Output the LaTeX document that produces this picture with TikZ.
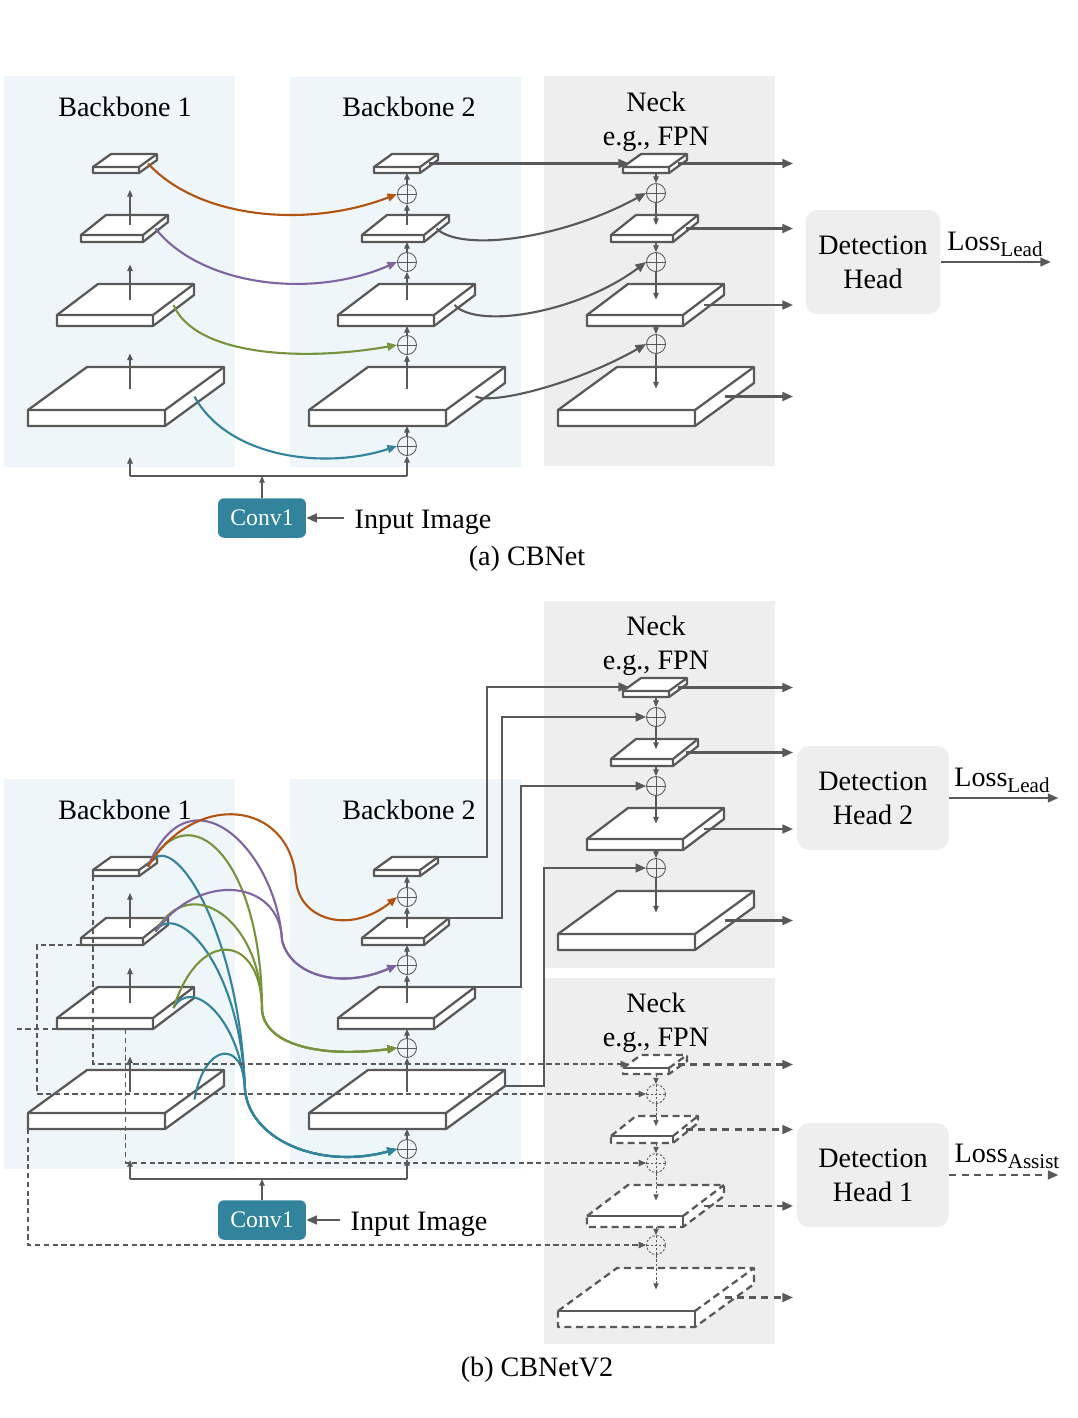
\documentclass[tikz,border=0pt]{standalone}
\usepackage{fontspec}
\setmainfont{Liberation Serif}
\usetikzlibrary{arrows.meta,calc}
\definecolor{lc}{RGB}{89,89,89}
\definecolor{bbg}{RGB}{238,246,250}
\definecolor{nbg}{RGB}{238,238,238}
\definecolor{cor}{RGB}{178,84,16}
\definecolor{cpu}{RGB}{128,100,162}
\definecolor{cgr}{RGB}{119,147,60}
\definecolor{cte}{RGB}{49,132,155}
\newcommand{\mydims}[1]{\ifcase#1 \or
  \def\Sw{137}\def\St{16}\def\Sdx{59}\def\Sdy{43}\or
  \def\Sw{96}\def\St{11}\def\Sdx{41}\def\Sdy{31}\or
  \def\Sw{62}\def\St{7}\def\Sdx{25}\def\Sdy{20}\or
  \def\Sw{46}\def\St{6}\def\Sdx{18}\def\Sdy{13}\fi}
\newcommand{\mypts}[4]{\mydims{#2}%
  \coordinate (#1-A) at (#3,#4);
  \coordinate (#1-B) at (#3+\Sw,#4);
  \coordinate (#1-C) at (#3+\Sw,#4+\St);
  \coordinate (#1-D) at (#3,#4+\St);
  \coordinate (#1-E) at (#3+\Sdx,#4-\Sdy);
  \coordinate (#1-F) at (#3+\Sw+\Sdx,#4-\Sdy);
  \coordinate (#1-G) at (#3+\Sw+\Sdx,#4-\Sdy+\St);
  \coordinate (#1-c) at (#3+\Sw/2+\Sdx/2,#4-\Sdy/2);
  \coordinate (#1-s) at (#3+\Sw+\Sdx/2,#4-\Sdy/2+\St/2);}
\newcommand{\myslab}[4]{\mypts{#1}{#2}{#3}{#4}%
  \filldraw[slabline,fill=white] (#1-A) -- (#1-E) -- (#1-F) -- (#1-G) -- (#1-C) -- (#1-D) -- cycle;
  \draw[slabline] (#1-A) -- (#1-B) -- (#1-C) (#1-B) -- (#1-F);}
\newcommand{\mydslab}[4]{\mypts{#1}{#2}{#3}{#4}%
  \fill[white] (#1-A) -- (#1-E) -- (#1-F) -- (#1-G) -- (#1-C) -- (#1-D) -- cycle;
  \draw[slabline,dslabdash] (#1-A) -- (#1-E) -- (#1-F) -- (#1-G) -- (#1-C) -- (#1-D) -- cycle (#1-B) -- (#1-F);
  \draw[slabline] (#1-A) -- (#1-B) -- (#1-C);}
\begin{document}
\begin{tikzpicture}[x=0.02cm,y=-0.02cm,
  slabline/.style={draw=lc, line width=1.3pt, line join=round},
  dslabdash/.style={dash pattern=on 4pt off 2.5pt},
  thinln/.style={draw=lc, line width=0.6pt},
  thinar/.style={thinln, -{Triangle[length=3.8pt,width=3.2pt]}},
  thickar/.style={draw=lc, line width=1.2pt, -{Triangle[length=6pt,width=5pt]}},
  dthickar/.style={thickar, dash pattern=on 4pt off 3pt},
  curvar/.style={line width=1.2pt, -{Triangle[length=5.5pt,width=4.5pt]}},
  dln/.style={draw=lc, line width=0.7pt, dash pattern=on 3pt off 2pt},
  dar/.style={dln, -{Triangle[length=4.2pt,width=3.6pt]}},
  dthin/.style={draw=lc, line width=0.5pt, dash pattern=on 1.5pt off 1pt, -{Triangle[length=3.5pt,width=3pt]}},
  plus/.style={circle, draw=lc, line width=0.5pt, minimum size=0.38cm, inner sep=0pt,
    path picture={\draw[lc, line width=0.5pt] (path picture bounding box.north) -- (path picture bounding box.south) (path picture bounding box.west) -- (path picture bounding box.east);}},
  dplus/.style={circle, draw=lc, line width=0.5pt, dash pattern=on 1.3pt off 1pt, minimum size=0.38cm, inner sep=0pt,
    path picture={\draw[lc, line width=0.5pt, dash pattern=on 1.3pt off 1pt] (path picture bounding box.north) -- (path picture bounding box.south) (path picture bounding box.west) -- (path picture bounding box.east);}},
  tx/.style={font=\fontsize{16}{19.5}\selectfont, align=center, inner sep=0pt},
  head/.style={tx, fill=nbg, rounded corners=0.24cm, minimum height=2.08cm},
  conv/.style={fill=cte, rounded corners=0.12cm, minimum width=1.76cm, minimum height=0.79cm, text=white, font=\fontsize{13.5}{16}\selectfont, inner sep=0pt},
]
\useasboundingbox (0,0) rectangle (1078,1418);
% ---------------- backgrounds
\fill[bbg] (4,76) rectangle (235,467);
\fill[bbg] (290,77) rectangle (521,467);
\fill[nbg] (544,76) rectangle (775,466);
\fill[bbg] (4,779) rectangle (235,1169);
\fill[bbg] (290,779) rectangle (521,1169);
\fill[nbg] (544,601) rectangle (775,968);
\fill[nbg] (544,978) rectangle (775,1344);
\coordinate (xo) at (793,0);
\coordinate (b1x) at (130,0);
\coordinate (nin) at (629,0);
% ================= (a) CBNet
\node[tx] (tb1a) at (125,107) {Backbone 1};
\node[tx] (tb2a) at (409,107) {Backbone 2};
\node[tx] (tna) at (656,122) {Neck\\e.g., FPN};
\node[head, minimum width=2.7cm] (ha) at (873,262) {Detection\\Head};
\node[tx] (la) at (995,244) {Loss\raisebox{-3.5pt}{\fontsize{12}{12}\selectfont Lead}};
\node[conv] (cva) at (262,518) {Conv1};
\node[tx] (ina) at (423,522) {Input Image};
\node[tx] (capa) at (527,559) {(a) CBNet};
\myslab{b1a1}{1}{28}{410}
\myslab{b1a2}{2}{57}{315}
\myslab{b1a3}{3}{81}{235}
\myslab{b1a4}{4}{93}{167}
\myslab{b2a1}{1}{309}{410}
\myslab{b2a2}{2}{338}{315}
\myslab{b2a3}{3}{362}{235}
\myslab{b2a4}{4}{374}{167}
\myslab{na1}{1}{558}{410}
\myslab{na2}{2}{587}{315}
\myslab{na3}{3}{611}{235}
\myslab{na4}{4}{623}{167}
\node[plus] (ca1) at (407,194) {};
\node[plus] (ca2) at (407,262) {};
\node[plus] (ca3) at (407,345) {};
\node[plus] (ca4) at (407,446) {};
\node[plus] (qa1) at (656,193) {};
\node[plus] (qa2) at (656,262) {};
\node[plus] (qa3) at (656,344) {};
% backbone 1 arrows
\draw[thinar] (b1a1-c -| b1x) -- ++(0,-35);
\draw[thinar] (b1a2-c -| b1x) -- ++(0,-35);
\draw[thinar] (b1a3-c -| b1x) -- ++(0,-35);
% backbone 2 arrows
\draw[thinar] (ca4.north) -- (ca4.north |- b2a1-D);
\draw[thinar] (ca4.south |- b2a1-c) -- (ca3.south);
\draw[thinar] (ca3.north) -- (ca3.north |- b2a2-D);
\draw[thinar] (ca3.south |- b2a2-c) -- (ca2.south);
\draw[thinar] (ca2.north) -- (ca2.north |- b2a3-D);
\draw[thinar] (ca2.south |- b2a3-c) -- (ca1.south);
\draw[thinar] (ca1.north) -- (ca1.north |- b2a4-D);
% neck arrows
\draw[thinar] (qa1.north |- na4-D) -- (qa1.north);
\draw[thinar] (qa1.south) -- (qa1.south |- na3-c);
\draw[thinar] (qa2.north |- na3-D) -- (qa2.north);
\draw[thinar] (qa2.south) -- (qa2.south |- na2-c);
\draw[thinar] (qa3.north |- na2-D) -- (qa3.north);
\draw[thinar] (qa3.south) -- (qa3.south |- na1-c);
% input
\coordinate (ia) at (262,476);
\draw[thinln] (b1x |- ia) -- (ca4.south |- ia);
\draw[thinar] (b1x |- ia) -- ++(0,-19);
\draw[thinar] (ca4.south |- ia) -- (ca4.south);
\draw[thinar] (cva.north) -- (ia);
\draw[thickar] ($(cva.east -| ina.west)+(-10,0)$) -- (cva.east);
% coloured lateral links
\draw[curvar,cte] (b1a1-s) .. controls (228,458) and (325,470) .. (ca4.west);
\draw[curvar,cgr] (b1a2-s) .. controls (195,355) and (300,362) .. (ca3.west);
\draw[curvar,cpu] (b1a3-s) .. controls (200,285) and (310,300) .. (ca2.west);
\draw[curvar,cor] (b1a4-s) .. controls (200,220) and (310,228) .. (ca1.west);
% backbone 2 -> neck
\draw[thickar] (b2a4-s) -- (b2a4-s -| nin);
\draw[thickar] (b2a3-s) .. controls (460,252) and (560,240) .. (qa1.west);
\draw[thickar] (b2a2-s) .. controls (478,330) and (580,312) .. (qa2.west);
\draw[thickar] (b2a1-s) .. controls (495,405) and (580,382) .. (qa3.west);
% outputs
\foreach \n in {na1,na2,na3,na4} \draw[thickar] (\n-s) -- (\n-s -| xo);
\draw[thickar] (ha.east) -- ++(110,0);
% ================= (b) CBNetV2
\node[tx] (tb1b) at (125,810) {Backbone 1};
\node[tx] (tb2b) at (409,810) {Backbone 2};
\node[tx] (tntb) at (656,646) {Neck\\e.g., FPN};
\node[tx] (tnbb) at (656,1023) {Neck\\e.g., FPN};
\node[head, minimum width=3.04cm] (h2) at (873,798) {Detection\\Head 2};
\node[head, minimum width=3.04cm] (h1) at (873,1175) {Detection\\Head 1};
\node[tx] (lb2) at (1002,780) {Loss\raisebox{-3.5pt}{\fontsize{12}{12}\selectfont Lead}};
\node[tx] (lb1) at (1007,1156) {Loss\raisebox{-3.5pt}{\fontsize{12}{12}\selectfont Assist}};
\node[conv] (cvb) at (262,1220) {Conv1};
\node[tx] (inb) at (419,1224) {Input Image};
\node[tx] (capb) at (537,1370) {(b) CBNetV2};
\myslab{b1b1}{1}{28}{1113}
\myslab{b1b2}{2}{57}{1018}
\myslab{b1b3}{3}{81}{938}
\myslab{b1b4}{4}{93}{870}
\myslab{b2b1}{1}{309}{1113}
\myslab{b2b2}{2}{338}{1018}
\myslab{b2b3}{3}{362}{938}
\myslab{b2b4}{4}{374}{870}
\myslab{nt1}{1}{558}{934}
\myslab{nt2}{2}{587}{839}
\myslab{nt3}{3}{611}{759}
\myslab{nt4}{4}{623}{691}
\mydslab{nb1}{1}{558}{1311}
\mydslab{nb2}{2}{587}{1216}
\mydslab{nb3}{3}{611}{1136}
\mydslab{nb4}{4}{623}{1068}
\node[plus] (cb1) at (407,897) {};
\node[plus] (cb2) at (407,965) {};
\node[plus] (cb3) at (407,1048) {};
\node[plus] (cb4) at (407,1149) {};
\node[plus] (qt1) at (656,717) {};
\node[plus] (qt2) at (656,786) {};
\node[plus] (qt3) at (656,868) {};
\node[dplus] (qb1) at (656,1094) {};
\node[dplus] (qb2) at (656,1163) {};
\node[dplus] (qb3) at (656,1245) {};
% backbone 1 arrows
\draw[thinar] (b1b1-c -| b1x) -- ++(0,-35);
\draw[thinar] (b1b2-c -| b1x) -- ++(0,-35);
\draw[thinar] (b1b3-c -| b1x) -- ++(0,-35);
% backbone 2 arrows
\draw[thinar] (cb4.north) -- (cb4.north |- b2b1-D);
\draw[thinar] (cb4.south |- b2b1-c) -- (cb3.south);
\draw[thinar] (cb3.north) -- (cb3.north |- b2b2-D);
\draw[thinar] (cb3.south |- b2b2-c) -- (cb2.south);
\draw[thinar] (cb2.north) -- (cb2.north |- b2b3-D);
\draw[thinar] (cb2.south |- b2b3-c) -- (cb1.south);
\draw[thinar] (cb1.north) -- (cb1.north |- b2b4-D);
% neck top arrows
\draw[thinar] (qt1.north |- nt4-D) -- (qt1.north);
\draw[thinar] (qt1.south) -- (qt1.south |- nt3-c);
\draw[thinar] (qt2.north |- nt3-D) -- (qt2.north);
\draw[thinar] (qt2.south) -- (qt2.south |- nt2-c);
\draw[thinar] (qt3.north |- nt2-D) -- (qt3.north);
\draw[thinar] (qt3.south) -- (qt3.south |- nt1-c);
% neck bottom arrows
\draw[dthin] (qb1.north |- nb4-D) -- (qb1.north);
\draw[dthin] (qb1.south) -- (qb1.south |- nb3-c);
\draw[dthin] (qb2.north |- nb3-D) -- (qb2.north);
\draw[dthin] (qb2.south) -- (qb2.south |- nb2-c);
\draw[dthin] (qb3.north |- nb2-D) -- (qb3.north);
\draw[dthin] (qb3.south) -- (qb3.south |- nb1-c);
% input
\coordinate (ib) at (262,1179);
\draw[thinln] (b1x |- ib) -- (cb4.south |- ib);
\draw[thinar] (b1x |- ib) -- ++(0,-19);
\draw[thinar] (cb4.south |- ib) -- (cb4.south);
\draw[thinar] (cvb.north) -- (ib);
\draw[thickar] ($(cvb.east -| inb.west)+(-10,0)$) -- (cvb.east);
% coloured composite links
\coordinate (co) at (296,880);
\coordinate (cp) at (282,940);
\coordinate (cg) at (262,1010);
\coordinate (ct) at (245,1090);
\draw[curvar,cte] (b1b4-s) .. controls (170,820) and (240,930) .. (ct) .. controls (250,1140) and (320,1170) .. (cb4.west);
\draw[curvar,cte] (b1b3-s) .. controls (175,900) and (240,960) .. (ct) .. controls (250,1140) and (320,1170) .. (cb4.west);
\draw[curvar,cte] (b1b2-s) .. controls (192,975) and (240,1020) .. (ct) .. controls (250,1140) and (320,1170) .. (cb4.west);
\draw[curvar,cte] (b1b1-s) .. controls (205,1040) and (245,1040) .. (ct) .. controls (250,1140) and (320,1170) .. (cb4.west);
\draw[curvar,cgr] (b1b4-s) .. controls (190,790) and (262,860) .. (cg) .. controls (265,1045) and (320,1058) .. (cb3.west);
\draw[curvar,cgr] (b1b3-s) .. controls (190,870) and (262,920) .. (cg) .. controls (265,1045) and (320,1058) .. (cb3.west);
\draw[curvar,cgr] (b1b2-s) .. controls (200,925) and (262,935) .. (cg) .. controls (265,1045) and (320,1058) .. (cb3.west);
\draw[curvar,cpu] (b1b4-s) .. controls (190,765) and (276,850) .. (cp) .. controls (290,975) and (340,990) .. (cb2.west);
\draw[curvar,cpu] (b1b3-s) .. controls (200,870) and (280,880) .. (cp) .. controls (290,975) and (340,990) .. (cb2.west);
\draw[curvar,cor] (b1b4-s) .. controls (195,790) and (290,800) .. (co) .. controls (299,920) and (350,935) .. (cb1.west);
% backbone 2 -> neck top (elbows)
\coordinate (k1) at (487,687);
\coordinate (k2) at (502,0);
\coordinate (k3) at (521,0);
\coordinate (k4) at (544,0);
\draw[thickar] (b2b4-F) -| (k1) -- (k1 -| nin);
\draw[thickar] (b2b3-F) -| (k2 |- qt1) -- (qt1.west);
\draw[thickar] (b2b2-F) -| (k3 |- qt2) -- (qt2.west);
\draw[thickar] (b2b1-G) -| (k4 |- qt3) -- (qt3.west);
% outputs
\foreach \n in {nt1,nt2,nt3,nt4} \draw[thickar] (\n-s) -- (\n-s -| xo);
\foreach \n in {nb1,nb2,nb3,nb4} \draw[dthickar] (\n-s) -- (\n-s -| xo);
\draw[thickar] (h2.east) -- ++(109,0);
\draw[dthickar] (h1.east) -- ++(109,0);
% backbone 1 -> neck bottom (dashed)
\coordinate (d1) at (37,0);
\coordinate (d2) at (14,0);
\coordinate (nbin) at (628,1064);
\draw[dar] (b1b4-D) |- (nbin);
\draw[dar] (b1b3-D) -| (d1 |- qb1) -- (qb1.west);
\draw[dln] (b1b2-D) -- (b1b2-D -| d2);
\draw[dar] (b1b2-D -| b1b2-c) |- (qb2.west);
\draw[dar] (b1b1-D) |- (qb3.west);
\end{tikzpicture}
\end{document}
